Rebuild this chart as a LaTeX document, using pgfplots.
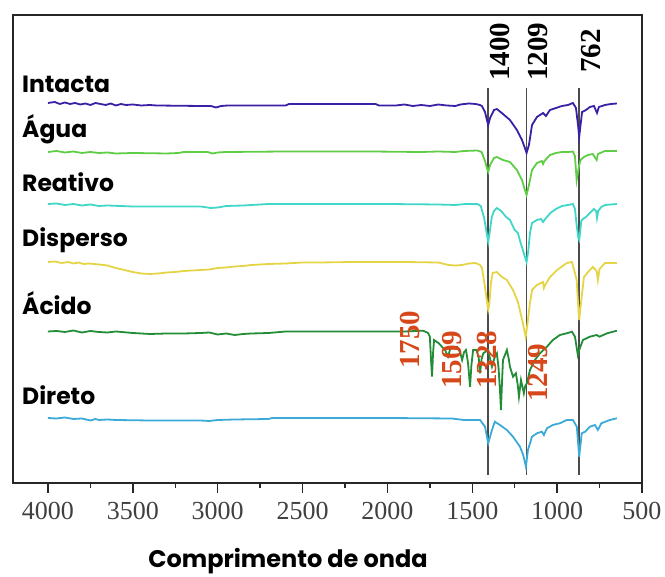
\documentclass[border=0pt]{standalone}
\usepackage{pgfplots}
\pgfplotsset{compat=1.18}
\usepackage{fontspec}
\setmainfont{Liberation Serif}
\newfontfamily\pop{Poppins}
\definecolor{cInt}{RGB}{58,32,165}
\definecolor{cAgu}{RGB}{95,205,70}
\definecolor{cRea}{RGB}{64,214,200}
\definecolor{cDis}{RGB}{228,212,70}
\definecolor{cAci}{RGB}{35,140,55}
\definecolor{cDir}{RGB}{60,170,215}
\definecolor{cRed}{RGB}{214,72,26}
\definecolor{cGray}{RGB}{75,75,75}
\begin{document}
\begin{tikzpicture}
\useasboundingbox (-13pt,-94pt) rectangle (652pt,483pt);
\begin{axis}[
  scale only axis, width=629pt, height=468pt,
  at={(0,0)}, anchor=south west,
  xmin=500, xmax=4206, x dir=reverse,
  ymin=0, ymax=468,
  clip=false,
  axis line style={black!85, line width=1.6pt},
  xtick={500,1000,...,4000}, minor x tick num=1,
  xtick pos=bottom, xtick align=outside,
  major tick length=10pt, minor tick length=5pt,
  every tick/.style={black!85, line width=1.4pt},
  ytick=\empty,
  /pgf/number format/1000 sep={},
  /pgf/number format/assume math mode=true,
  xticklabel style={font=\fontsize{26}{26}\selectfont, text=black!75, yshift=-6pt},
]
% vertical reference lines
\addplot[cGray, line width=1.7pt] coordinates {(1406,8) (1406,395)};
\addplot[cGray, line width=1.7pt] coordinates {(1180,8) (1180,395)};
\addplot[cGray, line width=1.7pt] coordinates {(870,8) (870,395)};

% Intacta
\addplot[cInt, line width=1.8pt] coordinates {
(4000,380) (3960,381) (3930,379) (3900,380.5) (3870,379) (3840,380) (3810,378.5) (3780,379.5) (3750,378) (3720,380) (3690,379) (3660,378) (3630,379.5) (3600,377.5) (3570,379) (3540,378) (3500,378.5) (3450,377.5) (3400,378) (3360,377.5) (3100,377) (3040,377) (3010,375.5) (2980,377) (2940,377.5) (2600,377.5) (2580,379) (2070,379) (2050,377.5) (1950,377.5) (1900,378.5) (1850,377) (1800,378) (1750,377) (1700,378.5) (1650,377.5) (1600,377) (1570,378.5) (1520,379.5) (1480,379) (1455,378)
(1443,377) (1425,371) (1412,362) (1406,358) (1395,365) (1372,373) (1355,374) (1319,369) (1278,363) (1237,353) (1207,343) (1190,335) (1180,330) (1166,338) (1148,358) (1119,366) (1083,370) (1066,367) (1042,373) (1007,375) (972,377) (936,378) (907,380) (889,375) (877,358) (870,346) (862,358) (853,371) (830,373) (807,376) (783,377) (765,370) (754,376) (718,378) (683,379) (648,379.5)};

% Agua
\addplot[cAgu, line width=1.8pt] coordinates {
(4000,331) (3950,332) (3900,330.5) (3850,331.5) (3800,330) (3750,331) (3700,330) (3650,330.5) (3600,329.5) (3500,330) (3300,329.5) (3230,330) (3200,331) (3060,331) (3030,329.5) (3000,330.5) (2950,331) (2600,331.5) (2100,331.5) (1800,331) (1700,331.5) (1600,331) (1550,332) (1470,332.5) (1445,331)
(1425,322) (1412,314) (1406,311) (1395,318) (1372,325) (1355,326) (1319,323) (1278,321) (1237,313) (1207,303) (1190,293) (1180,288) (1166,298) (1148,313) (1119,320) (1090,322) (1083,319) (1075,322) (1042,328) (1007,330) (972,331) (936,331) (907,331.5) (895,327) (885,303) (878,310) (870,318) (862,323) (842,326) (818,328) (790,329) (767,323) (760,329) (718,332) (683,332) (648,332)};

% Reativo
\addplot[cRea, line width=1.8pt] coordinates {
(4000,279) (3950,279.5) (3900,278) (3850,279) (3800,277.5) (3750,278.5) (3700,277) (3650,277.5) (3500,276.5) (3350,276.5) (3100,276.5) (3040,275) (3000,275.5) (2950,277) (2850,277.5) (2750,278.5) (2700,279) (2000,279) (1700,278.5) (1600,278) (1540,279) (1470,279)
(1450,277) (1430,265) (1415,250) (1406,241) (1398,250) (1385,266) (1372,272) (1355,275) (1330,272) (1300,266) (1278,263) (1250,253) (1231,250) (1215,240) (1200,232) (1190,226) (1180,221) (1170,232) (1160,250) (1148,260) (1119,263) (1095,264) (1083,261) (1070,264) (1040,270) (1007,274) (972,277) (936,278) (907,279) (895,274) (885,258) (875,245) (870,243) (865,250) (858,262) (848,264) (830,266) (807,270) (783,274) (770,272) (765,265) (758,272) (740,276) (718,278) (683,278.5) (648,279)};

% Disperso
\addplot[cDis, line width=1.8pt] coordinates {
(4000,221) (3960,221.5) (3920,220) (3880,221) (3850,219.5) (3820,220.5) (3790,219) (3760,219.5) (3700,218.5) (3650,217.5) (3600,215) (3550,213) (3500,211) (3450,209.5) (3400,209) (3350,209.5) (3300,210.5) (3250,211) (3200,212) (3150,212.5) (3100,213) (3050,213.5) (3000,215) (2950,215.5) (2900,216.5) (2850,217) (2800,218) (2750,218.5) (2700,219) (2600,219.5) (2500,220.5) (2400,220.5) (2200,221) (1900,221) (1700,220.5) (1640,218) (1600,217.5) (1560,218) (1520,219.5) (1480,220)
(1455,218) (1443,215) (1425,196) (1412,180) (1406,173) (1400,178) (1390,200) (1380,210) (1355,211) (1325,206) (1296,203) (1260,193) (1231,181) (1202,160) (1185,146) (1172,163) (1160,180) (1148,193) (1119,198) (1083,201) (1078,195) (1070,198) (1042,206) (1000,213) (943,220) (913,221) (895,210) (885,203) (875,175) (870,163) (862,176) (842,206) (818,211) (790,216) (767,212) (760,203) (750,214) (718,220) (648,220)};

% Acido
\addplot[cAci, line width=1.8pt] coordinates {
(4000,151.5) (3950,152) (3900,151) (3850,152.5) (3800,150.5) (3750,152) (3700,151) (3650,150.5) (3600,151.5) (3500,150) (3400,149) (3300,149.5) (3200,149.5) (3100,150) (3050,150.5) (3000,148.5) (2950,149.5) (2900,148) (2850,149) (2800,149.5) (2700,150) (2600,151.5) (2000,151.5) (1900,151.5) (1790,152.3)
(1760,150) (1750,146.3) (1742,120) (1737,106.3) (1731,130) (1725,143) (1697,139.7) (1679,136.3) (1660,133) (1643,126.3) (1630,134) (1620,136.3) (1590,136.3) (1570,130) (1560,123) (1548,131) (1537,133) (1525,120) (1513,96.3) (1505,118) (1495,133) (1475,133) (1462,125) (1454,109.7) (1445,124) (1435,129.7) (1406,133) (1395,124) (1384,116.3) (1367,126.3) (1355,129.7) (1345,115) (1336,90) (1331,73) (1325,100) (1319,123) (1296,133) (1285,124) (1278,116.3) (1260,106.3) (1243,109.7) (1232,98) (1225,86.3) (1213,103) (1204,96) (1196,89.7) (1188,97) (1178,99.7) (1160,113) (1131,123) (1101,129.7) (1060,136.3) (1025,143) (984,148) (943,149.7) (913,151.3) (895,146.3) (878,128) (870,133) (848,143) (807,146.3) (767,148) (750,146.3) (706,149.7) (670,151.3) (648,152.3)};

% Direto
\addplot[cDir, line width=1.8pt] coordinates {
(4000,65) (3950,64.5) (3900,65.5) (3850,64) (3800,64.5) (3750,62.5) (3720,64) (3700,63) (3650,63.5) (3600,63) (3400,62.5) (3100,62.5) (3050,62) (3000,63) (2900,63.5) (2700,64) (2680,65) (2000,65) (1620,64.5) (1550,63) (1460,63)
(1454,63) (1425,56.3) (1406,39.7) (1384,53) (1367,61.3) (1337,58) (1296,53) (1260,46.3) (1219,36.3) (1200,28) (1184,16.3) (1172,33) (1148,46.3) (1119,49.7) (1090,51.3) (1078,48) (1060,54.7) (1025,58) (984,59.7) (943,63) (907,63) (884,56.3) (870,26.3) (855,49.7) (835,51.3) (807,56.3) (777,58) (760,53) (740,59.7) (690,63) (648,64.7)};

% Category labels
\begin{scope}[every node/.style={font=\pop\bfseries\fontsize{23.5}{23.5}\selectfont, anchor=base west, inner sep=0pt}]
\node at (axis cs:4153,390) {Intacta};
\node at (axis cs:4153,345) {Água};
\node at (axis cs:4153,291) {Reativo};
\node at (axis cs:4153,236) {Disperso};
\node at (axis cs:4153,168) {Ácido};
\node at (axis cs:4153,78) {Direto};
\end{scope}

% peak labels
\begin{scope}[every node/.style={font=\bfseries\fontsize{29}{29}\selectfont, rotate=90, inner sep=0pt}]
\node at (axis cs:1337,431) {1400};
\node at (axis cs:1113,431) {1209};
\node at (axis cs:801,432) {762};
\node[text=cRed] at (axis cs:1867,143) {1750};
\node[text=cRed] at (axis cs:1620,123) {1509};
\node[text=cRed] at (axis cs:1413,123) {1328};
\node[text=cRed] at (axis cs:1113,110) {1249};
\end{scope}

\node[font=\pop\bfseries\fontsize{24}{24}\selectfont, inner sep=0pt] at (axis cs:2586,-78) {Comprimento de onda};
\end{axis}
\end{tikzpicture}
\end{document}
